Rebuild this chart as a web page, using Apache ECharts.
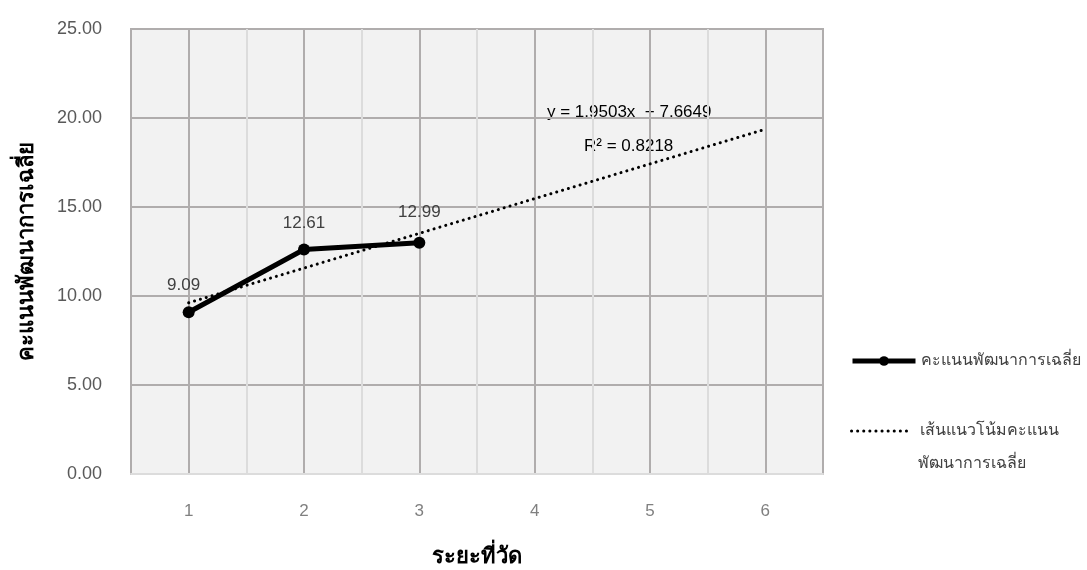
<!DOCTYPE html>
<html><head><meta charset="utf-8">
<script src="https://cdn.jsdelivr.net/npm/echarts@6/dist/echarts.min.js"></script>
<style>html,body{margin:0;padding:0;background:#fff}#c{width:1087px;height:570px}</style>
</head><body><div id="c"></div>
<script>
const categories = [1, 2, 3, 4, 5, 6];
const scoreX = [1, 2, 3];
const scoreY = [9.09, 12.61, 12.99];
const trendX = [1, 6];
const trendY = [9.62, 19.37];
const yTicks = [0, 5, 10, 15, 20, 25];
const seriesName = 'คะแนนพัฒนาการเฉลี่ย';
const trendName = 'เส้นแนวโน้มคะแนนพัฒนาการเฉลี่ย';
const trendLegendLines = ['เส้นแนวโน้มคะแนน', 'พัฒนาการเฉลี่ย'];
const eqText = 'y = 1.9503x  + 7.6649';
const r2Text = 'R² = 0.8218';

const font = 'Liberation Sans, Arial, sans-serif';
const dark = '#b0adad', light = '#dcdcdc';
const labelOffsets = [[-5, 0], [0, 0], [0, -4]];

const chart = echarts.init(document.getElementById('c'));
chart.setOption({
  animation: false,
  textStyle: { fontFamily: font },
  grid: { left: 131, right: 264, top: 29, bottom: 96, outerBoundsMode: 'none', containLabel: false,
    show: true, backgroundColor: '#f2f2f2', borderColor: dark, borderWidth: 2 },
  xAxis: {
    type: 'value', min: categories[0] - 0.5, max: categories[categories.length - 1] + 0.5, interval: 0.5,
    name: 'ระยะที่วัด', nameLocation: 'middle', nameGap: 72,
    nameTextStyle: { fontSize: 22, fontWeight: 'bold', color: '#000' },
    axisLine: { show: true, lineStyle: { color: light, width: 2 } },
    axisTick: { show: false },
    axisLabel: { color: '#808080', fontSize: 17, margin: 29,
      formatter: v => Number.isInteger(v) && categories.includes(v) ? String(v) : '' },
    splitLine: { show: true, showMinLine: false, showMaxLine: false, lineStyle: { color: [dark, light], width: 2 } }
  },
  yAxis: {
    type: 'value', min: yTicks[0], max: yTicks[yTicks.length - 1], interval: 5,
    name: seriesName, nameLocation: 'middle', nameGap: 93, nameRotate: 90,
    nameTextStyle: { fontSize: 22, fontWeight: 'bold', color: '#000' },
    axisLine: { show: false }, axisTick: { show: false },
    axisLabel: { color: '#595959', fontSize: 18, margin: 29, formatter: v => v.toFixed(2) },
    splitLine: { show: true, showMinLine: false, lineStyle: { color: dark, width: 2 } }
  },
  legend: [
    { data: [seriesName], orient: 'vertical', left: 850, top: 353, padding: 0, itemWidth: 63, itemHeight: 12, itemGap: 4,
      lineStyle: { width: 5, color: '#000' }, itemStyle: { color: '#000' },
      textStyle: { fontSize: 16, color: '#404040', padding: [0, 0, 0, 0] } },
    { data: [{ name: trendName, itemStyle: { opacity: 0 } }], orient: 'vertical', left: 850, top: 423, padding: 0, itemWidth: 56, itemHeight: 12,
      lineStyle: { width: 3, color: '#000', type: [0.1, 6], cap: 'round' },
      formatter: () => trendLegendLines[0],
      textStyle: { fontSize: 16, color: '#404040', padding: [0, 0, 0, 7] } }
  ],
  series: [
    { name: trendName, type: 'line', data: trendX.map((x, i) => [x, trendY[i]]),
      symbol: 'none', lineStyle: { color: '#000', width: 3, type: [0.1, 6], cap: 'round' }, z: 3, silent: true },
    { name: seriesName, type: 'line',
      data: scoreX.map((x, i) => ({ value: [x, scoreY[i]], label: { offset: labelOffsets[i] } })),
      symbol: 'circle', symbolSize: 12, itemStyle: { color: '#000' },
      lineStyle: { color: '#000', width: 5 }, z: 4,
      label: { show: true, position: 'top', distance: 12, color: '#404040', fontSize: 17, formatter: p => p.value[1].toFixed(2) } }
  ],
  graphic: [
    { type: 'text', left: 547, top: 104, style: { text: eqText, font: '17px ' + font, fill: '#000' } },
    { type: 'text', left: 584, top: 138, style: { text: r2Text, font: '17px ' + font, fill: '#000' } },
    { type: 'text', left: 918, top: 456, style: { text: trendLegendLines[1], font: '16px ' + font, fill: '#404040' } }
  ]
});
</script></body></html>
